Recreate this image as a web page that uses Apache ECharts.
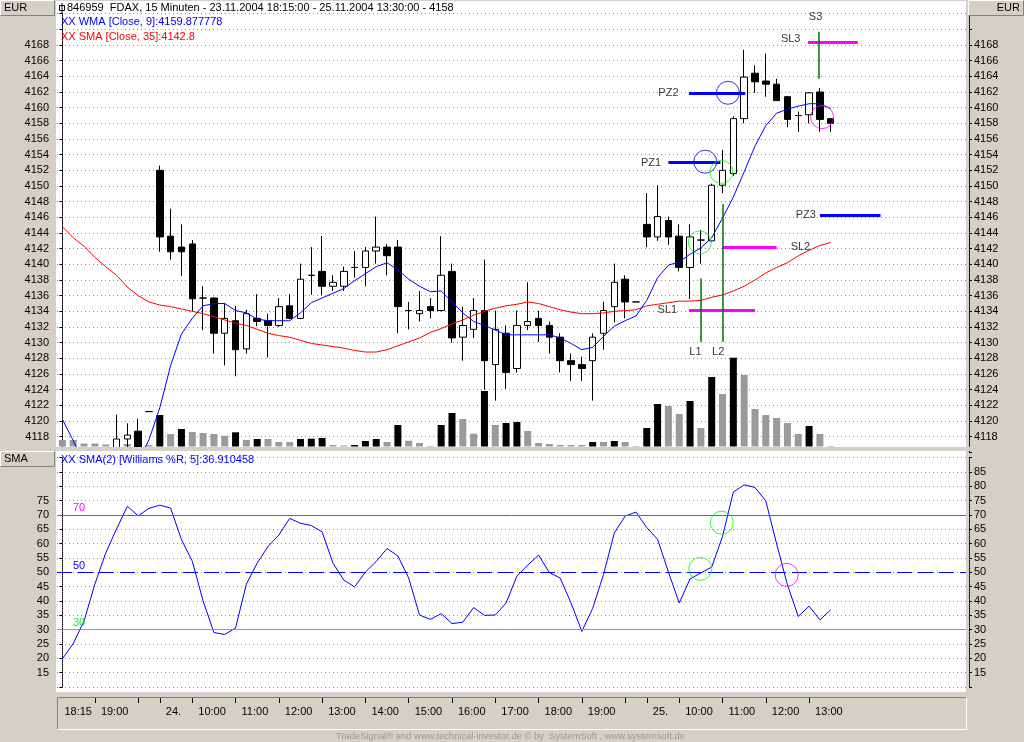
<!DOCTYPE html>
<html>
<head>
<meta charset="utf-8">
<title>FDAX 15 Minuten</title>
<script src="https://cdn.jsdelivr.net/npm/echarts@6/dist/echarts.min.js"></script>
<style>
html,body{margin:0;padding:0;background:#d4d0c8;overflow:hidden;}
#chart{width:1024px;height:742px;}
</style>
</head>
<body>
<div id="chart"></div>
<script>
// ---------------- data ----------------
const times = [
 '18:15','18:30','18:45','19:00','19:15','19:30','19:45','20:00','20:15',
 '09:15','09:30','09:45','10:00','10:15','10:30','10:45','11:00','11:15','11:30','11:45',
 '12:00','12:15','12:30','12:45','13:00','13:15','13:30','13:45','14:00','14:15','14:30','14:45',
 '15:00','15:15','15:30','15:45','16:00','16:15','16:30','16:45','17:00','17:15','17:30','17:45',
 '18:00','18:15','18:30','18:45','19:00','19:15','19:30','19:45','20:00','20:15',
 '09:15','09:30','09:45','10:00','10:15','10:30','10:45','11:00','11:15','11:30','11:45',
 '12:00','12:15','12:30','12:45','13:00','13:15','13:30'
];
// labelled ticks of the time axis (bar index -> text)
const tickLabels = {0:'18:15',3:'19:00',9:'24.',12:'10:00',16:'11:00',20:'12:00',24:'13:00',28:'14:00',
  32:'15:00',36:'16:00',40:'17:00',44:'18:00',48:'19:00',54:'25.',57:'10:00',61:'11:00',65:'12:00',69:'13:00'};
const unlabeledTicks = [7, 52];

const open = [4115.5,4113.0,4111.5,4112.0,4112.5,4114.5,4117.7,4118.7,4121.2,4152.0,
 4143.6,4142.2,4142.6,4135.7,4135.7,4131.2,4132.8,4129.2,4133.1,4132.8,
 4132.2,4134.7,4133.1,4138.6,4139.1,4137.2,4137.2,4139.6,4139.6,4141.7,
 4142.2,4142.2,4134.1,4133.7,4134.6,4134.1,4139.1,4130.7,4131.7,4134.1,
 4127.2,4131.2,4126.7,4132.2,4133.1,4132.2,4130.7,4127.7,4127.2,4127.7,
 4131.2,4134.6,4138.1,4135.2,4145.1,4143.5,4145.6,4143.6,4139.6,4143.1,
 4143.0,4150.1,4151.6,4158.6,4164.4,4163.4,4163.0,4161.4,4159.0,4159.1,
 4162.0,4158.6];
const close = [4113.0,4111.5,4112.0,4112.5,4113.5,4117.7,4118.2,4116.0,4121.2,4143.5,
 4141.6,4141.6,4135.6,4135.7,4131.2,4133.1,4129.1,4133.7,4132.7,4132.2,
 4134.6,4133.1,4138.1,4138.6,4137.2,4137.7,4139.1,4139.6,4141.7,4142.2,
 4141.1,4134.6,4134.1,4134.1,4134.1,4138.6,4130.6,4132.2,4134.1,4127.7,
 4131.7,4126.2,4132.2,4132.7,4132.2,4130.7,4127.7,4127.2,4126.7,4130.7,
 4134.1,4137.7,4135.2,4135.2,4143.5,4146.1,4143.5,4139.6,4143.5,4143.1,
 4150.1,4152.0,4158.6,4163.9,4163.3,4163.0,4160.9,4158.5,4159.0,4161.9,
 4158.5,4158.0];
const high = [4116.0,4114.0,4113.0,4113.5,4114.5,4120.8,4119.7,4120.3,4121.2,4152.6,
 4147.1,4145.1,4143.1,4137.2,4135.8,4135.0,4134.7,4134.2,4136.2,4133.7,
 4135.7,4136.2,4140.1,4142.2,4143.6,4138.6,4139.7,4141.7,4142.2,4146.1,
 4142.6,4143.1,4135.2,4136.6,4135.7,4143.6,4140.1,4134.6,4135.7,4140.6,
 4134.1,4132.2,4134.1,4137.7,4134.1,4132.7,4131.2,4128.6,4128.2,4131.2,
 4135.2,4140.1,4138.6,4135.2,4149.1,4150.1,4146.1,4145.1,4145.1,4144.4,
 4150.3,4154.6,4158.9,4167.4,4165.4,4166.9,4163.7,4161.5,4159.5,4162.0,
 4162.5,4158.6];
const low = [4112.5,4110.5,4111.0,4111.5,4112.0,4114.0,4116.0,4115.5,4121.2,4141.6,
 4140.6,4138.5,4134.0,4131.6,4128.6,4127.1,4125.7,4128.6,4132.1,4128.1,
 4132.0,4133.0,4133.0,4136.1,4136.1,4136.6,4136.6,4138.3,4137.2,4140.1,
 4138.6,4131.2,4131.7,4132.7,4133.1,4134.0,4130.0,4127.7,4130.6,4124.0,
 4122.6,4124.1,4126.2,4131.6,4130.1,4128.6,4126.2,4125.1,4125.1,4122.6,
 4129.1,4132.6,4133.1,4135.2,4142.2,4143.0,4142.5,4139.1,4135.6,4140.1,
 4142.9,4149.1,4151.3,4158.0,4161.9,4161.4,4160.9,4157.5,4156.9,4158.0,
 4156.9,4156.9];
const volume = [6.5,6.5,3,3,2,3,2.5,5,1.5,31.5,
 12.5,17.5,14.5,13.5,12.5,10.8,14.2,6.5,7.5,7.5,
 4.5,4.5,7.5,7.8,8.5,1.5,1,1.5,5.5,7.5,
 4.5,21.5,5.8,3.5,0.5,21.5,33.5,27.5,12.8,55.5,
 21.5,23.5,24.5,15.5,3.5,2.5,1.5,1.5,1.5,4.5,
 4.5,5.5,4.5,0.5,18.5,42.5,40.5,32.5,45.5,18.5,
 69.5,52.5,88.8,71.5,37.5,31.5,28.5,23.5,12.5,20.5,
 12.5,0.5];
const wma9 = [4120.2,4117.5,4114.5,4113.0,4112.5,4113.0,4113.8,4114.8,4117.6,4121.7,
 4127.1,4131.1,4133.1,4134.7,4135.0,4135.0,4134.1,4133.8,4133.0,4132.8,
 4132.8,4132.8,4133.8,4135.1,4135.7,4136.3,4136.9,4137.9,4138.8,4139.7,
 4140.2,4139.3,4138.1,4137.2,4136.5,4136.6,4135.2,4133.8,4132.7,4132.2,
 4131.6,4131.0,4131.0,4131.0,4131.0,4131.0,4130.6,4129.9,4129.1,4129.4,
 4130.8,4132.1,4132.8,4133.4,4135.4,4138.3,4139.9,4140.3,4141.3,4142.1,
 4143.4,4145.9,4148.6,4151.8,4155.1,4157.7,4159.3,4159.8,4160.2,4160.5,
 4160.5,4159.88];
const sma35 = [4144.8,4143.4,4142.3,4140.9,4139.7,4138.6,4137.1,4136.0,4135.2,4134.8,
 4134.6,4134.3,4134.0,4133.7,4133.3,4132.9,4132.5,4132.2,4131.7,4131.2,
 4130.9,4130.7,4130.3,4129.9,4129.7,4129.5,4129.3,4129.0,4128.8,4128.8,
 4129.1,4129.6,4130.1,4130.6,4131.3,4131.8,4132.4,4132.9,4133.5,4134.0,
 4134.4,4134.7,4134.9,4135.2,4135.0,4134.6,4134.2,4133.9,4133.7,4133.7,
 4133.8,4134.0,4134.1,4134.2,4134.7,4134.9,4135.1,4135.3,4135.3,4135.4,
 4135.8,4136.1,4136.6,4137.2,4138.0,4138.9,4139.6,4140.2,4141.1,4141.8,
 4142.4,4142.8];
const williams = [19.8,25.2,33.0,45.9,56.7,65.1,73.0,69.7,72.3,73.4,
 72.4,61.4,53.9,40.0,29.0,28.3,30.6,45.9,53.2,59.0,
 63.0,68.8,67.1,66.3,64.1,53.2,47.3,44.9,50.1,53.8,
 58.3,55.7,48.0,35.1,33.6,35.6,32.1,32.6,37.7,35.0,
 35.1,39.3,48.7,52.5,56.0,49.9,48.0,39.3,29.4,37.4,
 49.2,63.7,69.6,71.0,65.6,61.5,50.1,39.3,47.7,49.8,
 51.8,62.5,78.0,80.5,79.6,74.9,59.9,45.6,34.6,38.2,
 33.4,36.91];
const lastWma = '4159.877778', lastSma = '4142.8', lastWill = '36.910458', lastClose = '4158';
const levels = [70, 50, 30];

// drawn annotations (x in bar index units, y in price / %R)
const profitZones = [['PZ1',56.0,60.8,4153.0],['PZ2',57.9,63.1,4161.9],['PZ3',70.0,75.6,4146.3]];
const stopLevels  = [['SL1',57.9,64.0,4134.2],['SL2',61.0,66.0,4142.2],['SL3',68.9,73.5,4168.4]];
const signalBars  = [['L1',59.0,4130.1,4138.2],['L2',61.0,4130.1,4147.7],['S3',69.9,4163.7,4169.7]];
const annotLabels = [['PZ1',54.4,4153.0],['PZ2',56.0,4161.9],['PZ3',68.7,4146.3],['SL1',55.9,4134.2],
  ['SL2',68.2,4142.2],['SL3',67.3,4168.8],['S3',69.6,4171.6],['L1',58.5,4128.8],['L2',60.6,4128.8]];
const priceCircles = [[59.4,4153.1,'target'],[61.5,4161.9,'target'],[60.9,4151.8,'entry'],[58.9,4142.8,'entry'],[70.2,4158.8,'exit']];
const willCircles  = [[58.95,51.2,'entry'],[60.93,67.3,'entry'],[66.93,49.1,'exit']];

// ---------------- build ----------------
const PAD = 12;
const N = times.length;
const cats = times.map((t,i)=>i+' '+t).concat(Array.from({length:PAD},(_,k)=>'pad'+k));
const XMAX = N + PAD - 0.5;
const PMIN = 4116, PMAX = 4172;
const FONT = 'Liberation Sans, Arial, sans-serif';
const GRAY = '#d4d0c8', DARK = '#808080';
const circleColor = {target:'#0000ff', entry:'#00ff00', exit:'#ff00ff'};

// candles are clamped to the visible price range (the panel edge hides the rest)
const clampP = v => Math.min(PMAX, Math.max(PMIN, v));
const candleData = open.map((o,i)=>[o, close[i], low[i], high[i]].map(clampP));
const mainSplitColors = [];
for (let v = PMIN; v <= PMAX; v += 2) mainSplitColors.push(v === PMIN ? 'rgba(0,0,0,0)' : '#8c8c8c');

function raised(x,y,w,h,z){
  return [
    {type:'rect', z:z, shape:{x:x,y:y,width:w,height:h}, style:{fill:GRAY}},
    {type:'polyline', z:z+1, shape:{points:[[x+0.5,y+h-0.5],[x+0.5,y+0.5],[x+w-0.5,y+0.5]]}, style:{stroke:'#ffffff',fill:null,lineWidth:1}},
    {type:'polyline', z:z+1, shape:{points:[[x+w-0.5,y+0.5],[x+w-0.5,y+h-0.5],[x+0.5,y+h-0.5]]}, style:{stroke:DARK,fill:null,lineWidth:1}}
  ];
}
function txt(text,x,y,color,align,size){
  return {type:'text', z:120, style:{text:text, x:x, y:y, fill:color||'#000', font:(size||11)+'px '+FONT, align:align||'left', verticalAlign:'middle'}};
}

const graphics = [
  // white plot backgrounds
  {type:'rect', z:-10, shape:{x:56,y:1,width:910,height:446}, style:{fill:'#ffffff'}},
  {type:'rect', z:-10, shape:{x:56,y:451,width:910,height:241}, style:{fill:'#ffffff'}},
  // separator between panels (covers clipped marks)
  {type:'rect', z:100, shape:{x:0,y:447,width:1024,height:4}, style:{fill:GRAY}},
  {type:'rect', z:100, shape:{x:56,y:451,width:910,height:3}, style:{fill:'#ffffff'}},
  ...raised(0,0,55,16,101),
  ...raised(968,0,56,16,101),
  ...raised(0,451,55,16,101),
  txt('EUR',4,8,'#000','left'),
  txt('EUR',1020,8,'#000','right'),
  txt('SMA',4,459,'#000','left'),
  // time axis strip (sunken)
  {type:'polyline', z:101, shape:{points:[[57.5,729],[57.5,697.5],[966,697.5]]}, style:{stroke:DARK,fill:null,lineWidth:1}},
  {type:'polyline', z:101, shape:{points:[[966.5,697],[966.5,729.5],[57,729.5]]}, style:{stroke:'#ffffff',fill:null,lineWidth:1}},
  // title icon
  {type:'rect', z:120, shape:{x:59.5,y:5.5,width:5,height:5}, style:{fill:null,stroke:'#000',lineWidth:1}},
  {type:'line', z:120, shape:{x1:62,y1:3,x2:62,y2:13}, style:{stroke:'#000',lineWidth:1}},
  txt('846959  FDAX, 15 Minuten - 23.11.2004 18:15:00 - 25.11.2004 13:30:00 - ' + lastClose, 67, 8, '#000'),
  txt('XX WMA [Close, 9]:' + lastWma, 61, 22, '#0000ff'),
  txt('XX SMA [Close, 35]:' + lastSma, 61, 37, '#ff0000'),
  txt('XX SMA(2) [Williams %R, 5]:' + lastWill, 61, 460, '#0000ff'),
  {type:'text', z:120, style:{text:'TradeSignal\u00ae and www.technical-investor.de \u00a9 by  SystemSoft , www.systemsoft.de', x:336, y:736,
     fill:'#9a9a9a', font:'9.4px '+FONT, align:'left', verticalAlign:'middle'}}
];

const option = {
  animation:false,
  backgroundColor:GRAY,
  grid:[
    {left:57, width:909, top:13.67, height:438.65, outerBoundsMode:'none'},   // price 4172..4116
    {left:57, width:909, top:346.5, height:100, outerBoundsMode:'none'},      // volume
    {left:57, width:909, top:457.6, height:229.4, outerBoundsMode:'none'},    // Williams 90..10
    {left:57, width:909, top:697, height:1, outerBoundsMode:'none'}           // time axis
  ],
  xAxis:[
    {type:'category', gridIndex:0, data:cats, show:false},
    {type:'value', gridIndex:0, min:-0.5, max:XMAX, show:false},
    {type:'category', gridIndex:1, data:cats, show:false},
    {type:'category', gridIndex:2, data:cats, show:false},
    {type:'value', gridIndex:2, min:-0.5, max:XMAX, show:false},
    {type:'category', gridIndex:3, data:cats, position:'bottom',
      axisLine:{show:false},
      axisTick:{show:true, alignWithLabel:true, length:5, lineStyle:{color:'#000'},
        interval:(i)=> (tickLabels[i] !== undefined && i !== 0) || unlabeledTicks.indexOf(i) >= 0},
      axisLabel:{show:true, interval:(i)=> tickLabels[i] !== undefined, align:'left', margin:8,
        formatter:(v,i)=> (i === 0 ? '{f|' : '{t|') + (tickLabels[i] || '') + '}',
        rich:{f:{padding:[0,0,0,2], fontSize:11, fontFamily:FONT, color:'#000'},
              t:{padding:[0,0,0,6], fontSize:11, fontFamily:FONT, color:'#000'}}},
      splitLine:{show:false}}
  ],
  yAxis:[
    {type:'value', gridIndex:0, min:PMIN, max:PMAX, interval:2, position:'left', offset:3,
      axisLine:{show:true, lineStyle:{color:'#000', type:[1,1]}},
      axisTick:{show:true, length:3, lineStyle:{color:'#000'}},
      axisLabel:{formatter:v=> (v>=4118 && v<=4168) ? String(v) : '', margin:5, color:'#000', fontSize:11, fontFamily:FONT},
      splitLine:{show:true, lineStyle:{color:mainSplitColors, type:[1,3], width:1}}},
    {type:'value', gridIndex:0, min:PMIN, max:PMAX, interval:2, position:'right', offset:3,
      axisLine:{show:true, lineStyle:{color:'#000', type:[1,1]}},
      axisTick:{show:true, length:3, lineStyle:{color:'#000'}},
      axisLabel:{formatter:v=> (v>=4118 && v<=4168) ? String(v) : '', margin:5, color:'#000', fontSize:11, fontFamily:FONT},
      splitLine:{show:false}},
    {type:'value', gridIndex:1, min:0, max:100, show:false},
    {type:'value', gridIndex:2, min:10, max:90, interval:5, position:'left', offset:3,
      axisLine:{show:true, lineStyle:{color:'#000', type:[1,1]}},
      axisTick:{show:true, length:3, lineStyle:{color:'#000'}},
      axisLabel:{formatter:v=> (v>=15 && v<=75) ? String(v) : '', margin:5, color:'#000', fontSize:11, fontFamily:FONT},
      splitLine:{show:true, lineStyle:{color:'#8c8c8c', type:[1,3], width:1}}},
    {type:'value', gridIndex:2, min:10, max:90, interval:5, position:'right', offset:3,
      axisLine:{show:true, lineStyle:{color:'#000', type:[1,1]}},
      axisTick:{show:true, length:3, lineStyle:{color:'#000'}},
      axisLabel:{formatter:v=> (v>=15 && v<=85) ? String(v) : '', margin:5, color:'#000', fontSize:11, fontFamily:FONT},
      splitLine:{show:false}},
    {type:'value', gridIndex:3, show:false}
  ],
  graphic: graphics,
  series:[
    {name:'Volume', type:'bar', xAxisIndex:2, yAxisIndex:2, data:volume, barWidth:7, silent:true,
      itemStyle:{color:p=> (p.dataIndex > 0 && volume[p.dataIndex] > volume[p.dataIndex-1]) ? '#000000' : '#9a9a9a'}},
    {name:'FDAX', type:'candlestick', xAxisIndex:0, yAxisIndex:0, data:candleData, barWidth:7, clip:true, silent:true,
      itemStyle:{color:'#ffffff', color0:'#000000', borderColor:'#000000', borderColor0:'#000000', borderColorDoji:'#000000', borderWidth:1}},
    {name:'SMA 35', type:'line', xAxisIndex:0, yAxisIndex:0, data:sma35, showSymbol:false, symbol:'none', silent:true,
      lineStyle:{color:'#ff0000', width:1}, z:3},
    {name:'WMA 9', type:'line', xAxisIndex:0, yAxisIndex:0, data:wma9, showSymbol:false, symbol:'none', silent:true,
      lineStyle:{color:'#0000ff', width:1}, z:3},
    {name:'Annotations', type:'lines', coordinateSystem:'cartesian2d', xAxisIndex:1, yAxisIndex:0, silent:true, z:4,
      data:[].concat(
        profitZones.map(a=>({coords:[[a[1],a[3]],[a[2],a[3]]], lineStyle:{color:'#0000ff', width:3, opacity:1, curveness:0}})),
        stopLevels.map(a=>({coords:[[a[1],a[3]],[a[2],a[3]]], lineStyle:{color:'#ff00ff', width:3, opacity:1, curveness:0}})),
        signalBars.map(a=>({coords:[[a[1],a[2]],[a[1],a[3]]], lineStyle:{color:'#007000', width:1.5, opacity:1, curveness:0}}))
      )},
    {name:'Circles', type:'scatter', xAxisIndex:1, yAxisIndex:0, silent:true, z:5, symbol:'circle', symbolSize:23,
      data:priceCircles.map(c=>({value:[c[0],c[1]], itemStyle:{color:'rgba(0,0,0,0)', borderColor:circleColor[c[2]], borderWidth:1}}))},
    {name:'Labels', type:'scatter', xAxisIndex:1, yAxisIndex:0, silent:true, z:6, symbolSize:1,
      itemStyle:{color:'rgba(0,0,0,0)'},
      label:{show:true, position:'inside', formatter:p=>p.name, color:'#000', fontSize:11, fontFamily:FONT},
      data:annotLabels.map(a=>({name:a[0], value:[a[1],a[2]]}))},
    {name:'Williams %R SMA', type:'line', xAxisIndex:3, yAxisIndex:3, data:williams, showSymbol:false, symbol:'none', silent:true,
      lineStyle:{color:'#0000ff', width:1}, z:4,
      markLine:{silent:true, symbol:['none','none'], animation:false,
        label:{show:true, position:'insideStartTop', distance:[16,1], fontSize:11, fontFamily:FONT},
        data:[
          {yAxis:levels[0], lineStyle:{color:'#ff00ff', type:'solid', width:1}, label:{formatter:String(levels[0]), color:'#ff00ff'}},
          {yAxis:levels[1], lineStyle:{color:'#0000ff', type:[15,6], width:1}, label:{formatter:String(levels[1]), color:'#0000ff'}},
          {yAxis:levels[2], lineStyle:{color:'#00ff00', type:'solid', width:1}, label:{formatter:String(levels[2]), color:'#00ff00'}}
        ]}},
    {name:'Williams circles', type:'scatter', xAxisIndex:4, yAxisIndex:3, silent:true, z:5, symbol:'circle', symbolSize:23,
      data:willCircles.map(c=>({value:[c[0],c[1]], itemStyle:{color:'rgba(0,0,0,0)', borderColor:circleColor[c[2]], borderWidth:1}}))}
  ]
};
const chart = echarts.init(document.getElementById('chart'), null, {renderer:'canvas'});
chart.setOption(option);
</script>
</body>
</html>
